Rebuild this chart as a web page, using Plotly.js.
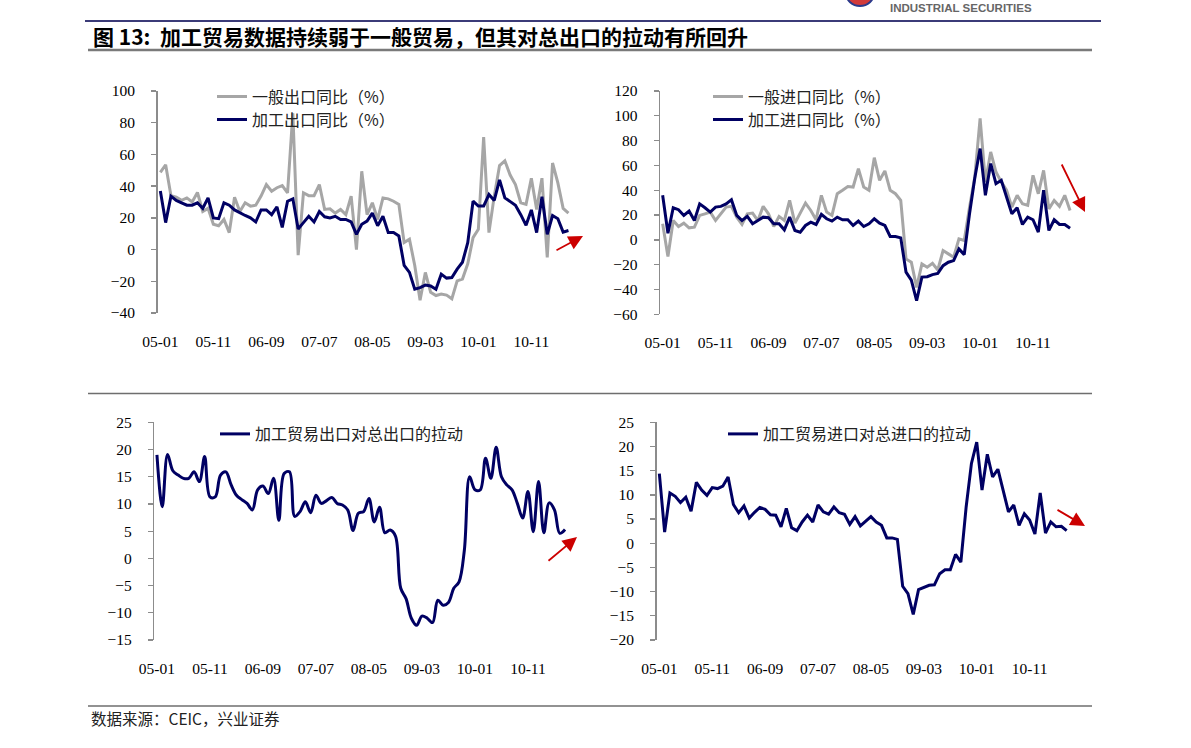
<!DOCTYPE html>
<html><head><meta charset="utf-8">
<script src="https://cdn.plot.ly/plotly-3.0.1.min.js"></script>
<style>html,body{margin:0;padding:0;background:#fff;overflow:hidden}#chart{width:1191px;height:748px}</style>
</head><body><div id="chart"></div>
<script>
// ---------------- DATA ----------------
const months = ['05-01','05-02','05-03','05-04','05-05','05-06','05-07','05-08','05-09','05-10','05-11','05-12',
'06-01','06-02','06-03','06-04','06-05','06-06','06-07','06-08','06-09','06-10','06-11','06-12',
'07-01','07-02','07-03','07-04','07-05','07-06','07-07','07-08','07-09','07-10','07-11','07-12',
'08-01','08-02','08-03','08-04','08-05','08-06','08-07','08-08','08-09','08-10','08-11','08-12',
'09-01','09-02','09-03','09-04','09-05','09-06','09-07','09-08','09-09','09-10','09-11','09-12',
'10-01','10-02','10-03','10-04','10-05','10-06','10-07','10-08','10-09','10-10','10-11','10-12',
'11-01','11-02','11-03','11-04','11-05','11-06'];
const tickLabels = ['05-01','05-11','06-09','07-07','08-05','09-03','10-01','10-11'];

// 一般出口同比（%）
const generalExport = [48.7,53.5,34,33,31,32.6,30,36,24,26,16,15,19,10.7,33,24,29.5,27.4,28,33.7,
41,36.8,39,40.4,35.8,86,-3.5,35.8,34,34,41,25.3,25.7,23,25.3,22,33.7,0,49.4,22,
29.5,19,32.6,32,30.5,28.5,4.4,6.5,-10,-32,-14.4,-27,-29,-28,-28.7,-31,-19.7,-18.6,-9,7.5,
12.8,71,10.7,33.7,53,56,47,41,29.5,28.5,45,25.3,45,-5,54.6,42,26,23];
// 加工出口同比（%）
const processingExport = [37,17,33.7,31,29.5,28,28,29.5,26,32.6,20,19.5,29.5,28,25,23,21.5,20,17.4,25,
25,22,27,14,30.5,32,13,17,21,17.4,24,20.7,20,21,19,19,17.4,9.6,16,18,
23,15,21,10.7,10.7,8.6,-10,-14.4,-25,-24,-22.4,-23,-25,-15.5,-18,-17.6,-12.3,-8,4.4,30.5,
27.4,27.4,34.7,31,44,32.6,30.5,28,22,15.3,25,10.7,33.3,9.6,21.5,19.5,11,12];
// 一般进口同比（%）
const generalImport = [13,-13.5,15.6,10.8,13.5,9.7,10.2,19.7,21,22.4,15.6,21,26.4,27,18.3,12.4,21,21.6,15.6,27,
21,10.8,18.9,15.6,31.8,13.5,21,29.7,23.7,16.2,35.9,22.4,19.7,37.2,40,43,42.6,57.4,42.6,40,
66.3,48,55.6,40,37.2,31.8,-15.4,-18,-38.3,-19.4,-22,-18.9,-24.3,-8.6,-11.3,-14,0.8,-0.5,26.4,50.7,
97.9,46.7,70.9,54.7,46.7,40,26.4,35.9,29.1,27.8,52,37.2,56,25,31.8,27,35.9,23.7];
// 加工进口同比（%）
const processingImport = [35.9,5.4,25.9,24.3,19.7,23.2,15.6,29,25.9,22.4,26.4,27,29,32.4,19.7,15.6,18.9,13,15.6,18.3,
17.8,13,13,8.1,18.3,7.6,6.2,11.6,14.3,12.4,20.5,17,15.1,18.3,16.2,16.2,11.6,15.1,10.8,13,
17,13.5,11.6,2.7,2.7,1.6,-26,-32.4,-49,-30,-29.7,-28,-27,-20.8,-18,-16.7,-7.3,-11.9,21,50,
73.6,35.9,61.5,45.3,48,34.5,21,25.9,12.4,18.3,16.2,6.2,40,7.6,16.2,12.4,12.4,9.4];
// 加工贸易出口对总出口的拉动
const processingExportPull = [19,9.5,19.1,16.1,15.3,14.7,14.7,15.9,14.1,18.7,11.3,11.3,15.3,15.9,13.5,11.6,10.8,10.1,8.9,12.6,
13.3,11.9,14.7,7,15.6,15.9,7.7,8.6,10.4,8.4,11.6,10.1,10.6,11.2,10.1,9.8,8.9,5.1,8.3,8.6,
11,6.7,9.4,4.7,5.2,4.1,-5.5,-7.4,-11,-12.3,-10.6,-11,-11.8,-7.7,-8.6,-8.1,-5.5,-4.3,1.5,15,
12.6,12.6,18.4,14.7,20.4,15,13.5,12.6,10.1,7.4,12.3,4.9,14.1,4.7,10.2,8.9,4.6,5.3];
// 加工贸易进口对总进口的拉动
const processingImportPull = [14.4,2.3,10.4,9.7,8.4,9.5,6.6,12.6,11,9.9,11.5,11.3,11.8,13.7,8,6.3,7.7,5.2,6.4,7.4,
7,5.9,5.8,3.4,7.2,3.2,2.6,4.4,5.8,4.4,7.9,6.5,6,7.5,6.3,6,3.9,5.5,3.6,4.6,
5.5,4.4,3.7,1.1,1.1,0.8,-8.9,-10.4,-14.7,-9.6,-9.2,-8.7,-8.6,-6.3,-5.5,-5.5,-2.3,-3.9,7.5,16.5,
20.9,11,18.4,13.7,15.3,10.6,6.5,7.9,3.7,6.1,4.8,1.9,10.4,2.1,4.4,3.4,3.5,2.6];

const titleText = '图 13:  加工贸易数据持续弱于一般贸易，但其对总出口的拉动有所回升';
const sourceText = '数据来源：CEIC，兴业证券';
const logoText = 'INDUSTRIAL SECURITIES';

// ---------------- STYLE / LAYOUT HELPERS ----------------
const W = 1191, H = 748;
const GRAY = '#a6a6a6', NAVY = '#000063', AXIS = '#8c8c8c', RED = '#cc0000';
const SERIF = '"Liberation Serif", "Times New Roman", serif';
const CJK = '"Noto Sans CJK SC", "Liberation Serif", sans-serif';
const px = v => v / W, py = v => 1 - v / H;
const idx = months.map((_, i) => i);
const tickIdx = tickLabels.map(t => months.indexOf(t));
const boundaryTicks = tickIdx.map(i => i - 0.5);

const panels = [
  {x0: 157.7, x1: 571.1, y0: 91, y1: 313, yr: [-40, 100], dt: 20},
  {x0: 660.0, x1: 1072.7, y0: 91, y1: 314.3, yr: [-60, 120], dt: 20},
  {x0: 154.3, x1: 567.7, y0: 422.3, y1: 640, yr: [-15, 25], dt: 5},
  {x0: 656.7, x1: 1069.3, y0: 422.3, y1: 640, yr: [-20, 25], dt: 5}
];

const layout = {
  width: W, height: H, margin: {l: 0, r: 0, t: 0, b: 0},
  paper_bgcolor: '#fff', plot_bgcolor: 'rgba(0,0,0,0)',
  showlegend: true, shapes: [], annotations: []
};

panels.forEach((p, k) => {
  const n = k + 1, s = n === 1 ? '' : String(n);
  const dx = [px(p.x0), px(p.x1)], dy = [py(p.y1), py(p.y0)];
  const xr = [-0.5, months.length - 0.5];
  layout['xaxis' + s] = {
    domain: dx, anchor: 'y' + s, range: xr, showline: false, zeroline: false, showgrid: false,
    ticks: '', tickmode: 'array', tickvals: tickIdx, ticktext: tickLabels,
    tickfont: {family: SERIF, size: 15.5, color: '#000'}, ticklabelstandoff: 17, fixedrange: true
  };
  layout['yaxis' + s] = {
    domain: dy, anchor: 'x' + s, range: p.yr, dtick: p.dt, tick0: 0, showline: true, linecolor: AXIS, linewidth: 1.5,
    ticks: 'outside', ticklen: 5, tickcolor: AXIS, tickwidth: 1.3, showgrid: false, zeroline: false,
    tickfont: {family: SERIF, size: 15.5, color: '#000'}, ticklabelstandoff: 13, fixedrange: true
  };
  const zeroPos = dy[0] + (0 - p.yr[0]) / (p.yr[1] - p.yr[0]) * (dy[1] - dy[0]);
  layout['xaxis' + (n + 4)] = {
    domain: dx, overlaying: 'x' + s, anchor: 'free', position: zeroPos, side: 'bottom', range: xr,
    showline: true, linecolor: AXIS, linewidth: 1.5, ticks: 'inside', ticklen: 5, tickcolor: AXIS, tickwidth: 1.3,
    tickmode: 'array', tickvals: boundaryTicks, showticklabels: false, showgrid: false, zeroline: false, fixedrange: true
  };
});

function line(xa, ya, y, name, color, leg, shape) {
  return {x: idx, y: y, type: 'scatter', mode: 'lines', name: name, xaxis: xa, yaxis: ya, legend: leg,
    line: {color: color, width: 3, shape: shape || 'linear', smoothing: 1}, hoverinfo: 'skip'};
}
const data = [
  line('x', 'y', generalExport, '一般出口同比（%）', GRAY, 'legend'),
  line('x', 'y', processingExport, '加工出口同比（%）', NAVY, 'legend2'),
  line('x2', 'y2', generalImport, '一般进口同比（%）', GRAY, 'legend3'),
  line('x2', 'y2', processingImport, '加工进口同比（%）', NAVY, 'legend4'),
  line('x3', 'y3', processingExportPull, '加工贸易出口对总出口的拉动', NAVY, 'legend5', 'spline'),
  line('x4', 'y4', processingImportPull, '加工贸易进口对总进口的拉动', NAVY, 'legend6')
];

const legFont = {family: CJK, size: 16, color: '#222'};
const legBase = {bgcolor: 'rgba(0,0,0,0)', borderwidth: 0, font: legFont, xanchor: 'left', yanchor: 'top',
  tracegroupgap: 0, itemwidth: 30};
// one legend per row so each row sits where the reference puts it
[[212, 79.5], [212, 102.5], [708, 79.5], [708, 102.5], [215, 417], [723, 417]].forEach((pos, k) => {
  layout['legend' + (k === 0 ? '' : k + 1)] = Object.assign({}, legBase, {x: px(pos[0]), y: py(pos[1])});
});

// header / footer decoration
layout.shapes.push(
  {type: 'line', xref: 'paper', yref: 'paper', x0: px(85), x1: px(1101), y0: py(21), y1: py(21), line: {color: '#3b3b78', width: 1.8}},
  {type: 'line', xref: 'paper', yref: 'paper', x0: px(88), x1: px(1092), y0: py(50), y1: py(50), line: {color: '#7a7a7a', width: 2.5}},
  {type: 'line', xref: 'paper', yref: 'paper', x0: px(88), x1: px(1092), y0: py(393.5), y1: py(393.5), line: {color: '#6e6e6e', width: 1.6}},
  {type: 'line', xref: 'paper', yref: 'paper', x0: px(88), x1: px(1092), y0: py(706), y1: py(706), line: {color: '#6e6e6e', width: 1.6}},
  {type: 'circle', xref: 'paper', yref: 'paper', x0: px(846), x1: px(874), y0: py(6), y1: py(-20), fillcolor: '#d23a3a', line: {color: '#2b3a8c', width: 2}}
);
layout.annotations.push(
  {xref: 'paper', yref: 'paper', x: px(91), y: py(36), xanchor: 'left', yanchor: 'middle', showarrow: false,
   text: '<b>' + titleText + '</b>', font: {family: CJK, size: 21, color: '#000'}},
  {xref: 'paper', yref: 'paper', x: px(89), y: py(718), xanchor: 'left', yanchor: 'middle', showarrow: false,
   text: sourceText, font: {family: CJK, size: 15.5, color: '#222'}},
  {xref: 'paper', yref: 'paper', x: px(888), y: py(8.5), xanchor: 'left', yanchor: 'middle', showarrow: false,
   text: '<b>' + logoText + '</b>', font: {family: '"Liberation Sans", Arial, sans-serif', size: 11.5, color: '#666'}}
);
// red trend arrows
[[583, 236, -28, 15], [1085, 212, -24, -49], [577, 537, -30, 25], [1085, 526, -29, -17]].forEach(a => {
  layout.annotations.push({xref: 'paper', yref: 'paper', x: px(a[0]), y: py(a[1]), ax: a[2], ay: a[3], text: '',
    showarrow: true, arrowhead: 2, arrowsize: 1.6, arrowwidth: 1.8, arrowcolor: RED, standoff: 0});
});

Plotly.newPlot('chart', data, layout, {staticPlot: true, displayModeBar: false});
</script></body></html>
